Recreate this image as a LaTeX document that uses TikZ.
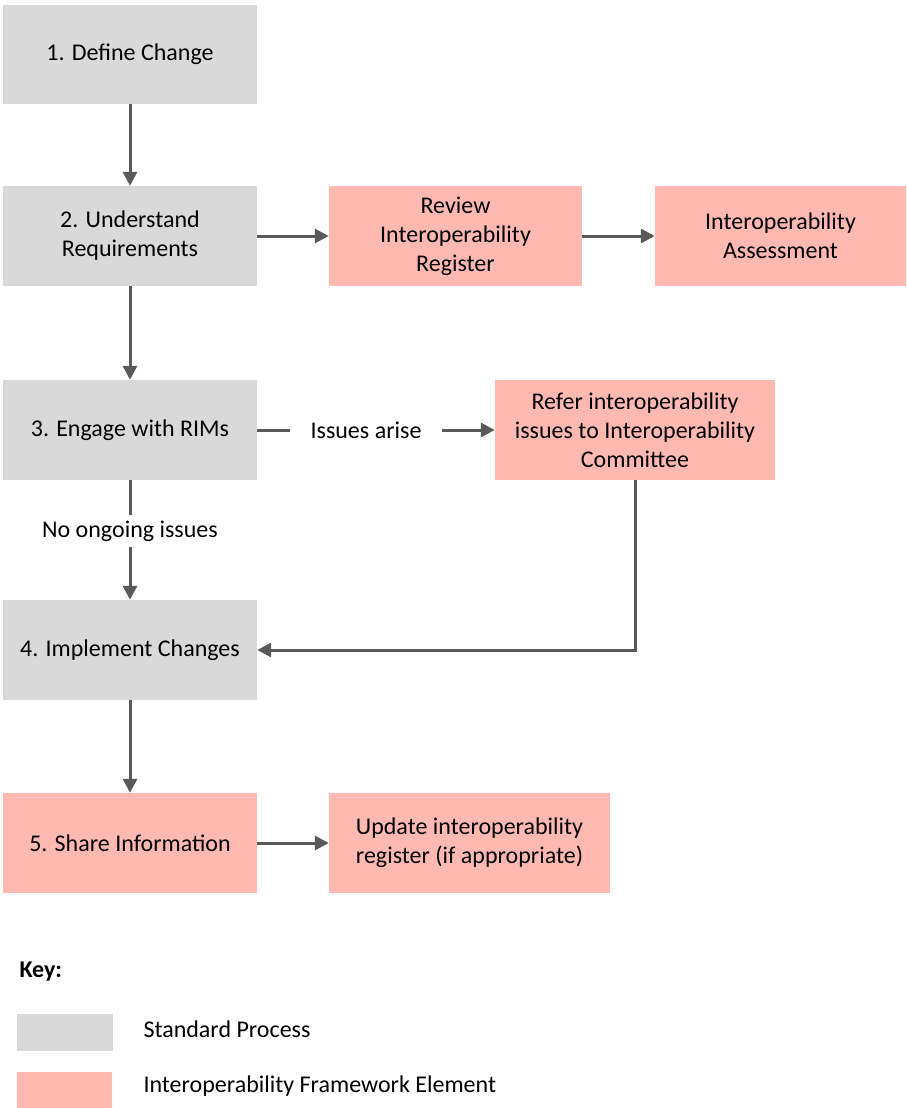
\documentclass[tikz,border=0pt]{standalone}
\usepackage{fontspec}
\setmainfont{Carlito}
\usetikzlibrary{arrows.meta}
\definecolor{stdgray}{HTML}{D9D9D9}
\definecolor{ifepink}{HTML}{FFB9B0}
\definecolor{linegray}{HTML}{595959}
\begin{document}
\begin{tikzpicture}[x=1pt,y=1pt,
  font=\fontsize{24}{29}\selectfont,
  box/.style={minimum width=254pt,minimum height=100pt,inner sep=0pt,align=center},
  stdbox/.style={box,fill=stdgray},
  ifebox/.style={box,fill=ifepink},
  flow/.style={draw=linegray,line width=3pt,-{Triangle[length=14pt,width=14pt]}},
  lbl/.style={fill=white,text=black}]
\useasboundingbox (0,0) rectangle (906,-1108);

% process steps
\node[stdbox,minimum height=99pt] (s1) at (130,-54.5) {1. Define Change};
\node[stdbox] (s2) at (130,-236) {2. Understand\\Requirements};
\node[stdbox] (s3) at (130,-430) {3. Engage with RIMs};
\node[stdbox] (s4) at (130,-650) {4. Implement Changes};
\node[ifebox] (s5) at (130,-843) {5. Share Information};

% framework elements
\node[ifebox,minimum width=253pt] (rev) at (455.5,-236) {Review\\Interoperability\\Register};
\node[ifebox,minimum width=251pt] (ass) at (780.5,-236) {Interoperability\\Assessment};
\node[ifebox,minimum width=280pt] (ref) at (635,-430) {Refer interoperability\\issues to Interoperability\\Committee};
\node[ifebox,minimum width=281pt] (upd) at (469.5,-843) {Update interoperability\\register (if appropriate)};

% connectors
\draw[flow] (s1) -- (s2);
\draw[flow] (s2) -- (rev);
\draw[flow] (rev) -- (ass);
\draw[flow] (s2) -- (s3);
\draw[flow] (s3) -- node[lbl,pos=0.458,inner xsep=21pt,inner ysep=2pt] {Issues arise} (ref);
\draw[flow] (s3) -- node[lbl,pos=0.425,inner xsep=2pt,inner ysep=6pt] {No ongoing issues} (s4);
\draw[flow] (ref.south) |- (s4.east);
\draw[flow] (s4) -- (s5);
\draw[flow] (s5) -- (upd);

% key
\node[anchor=west,font=\fontsize{24}{29}\selectfont\bfseries] (key) at (16,-972) {Key:};
\node[fill=stdgray,minimum width=96pt,minimum height=37pt,inner sep=0pt] (kstd) at (65,-1032.5) {};
\node[fill=ifepink,minimum width=95pt,minimum height=36pt,inner sep=0pt] (kife) at (64.5,-1090) {};
\node[anchor=west] (kstdt) at (140,-1029) {Standard Process};
\node[anchor=west] (kifet) at (140,-1086) {Interoperability Framework Element};
\end{tikzpicture}
\end{document}
